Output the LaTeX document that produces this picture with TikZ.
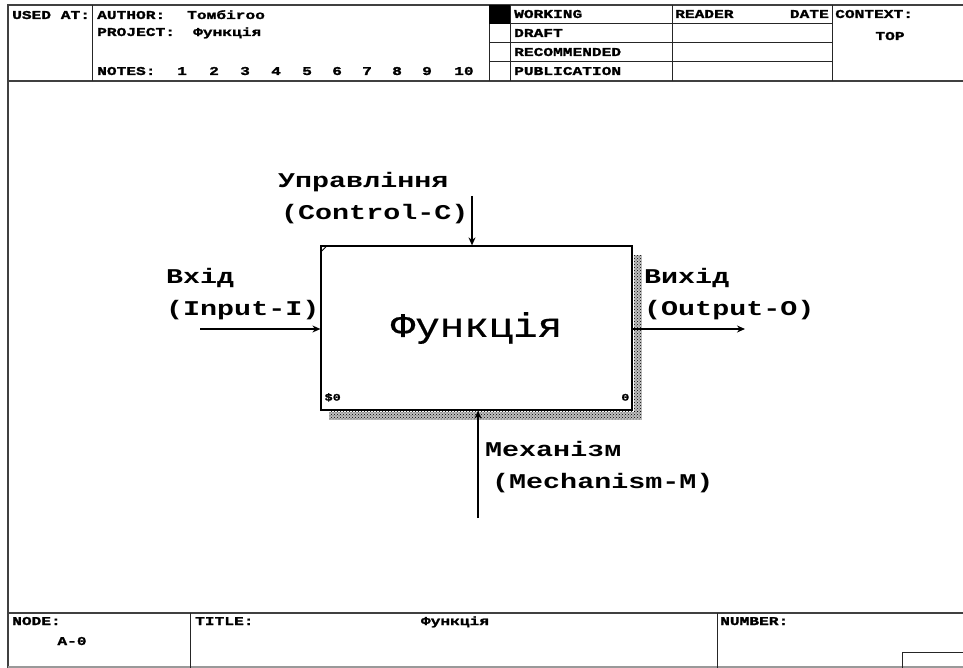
\documentclass[tikz,border=0pt]{standalone}
\usepackage{fontspec}
\setmainfont{Liberation Mono}
\newfontfamily\lblfont[FakeStretch=1.35]{Liberation Mono}
\newfontfamily\hdrfont[FakeStretch=1.35, FakeBold=1.5]{Liberation Mono}
\newfontfamily\fnfont[FakeStretch=1.2, FakeBold=0.6]{Liberation Mono}
\usetikzlibrary{arrows.meta,positioning,calc,patterns}

\begin{document}
\begin{tikzpicture}[x=1pt, y=-1pt,
    frm/.style={draw=black!75, line width=1.6pt},
    cel/.style={draw=black!85, line width=1pt},
    hdr/.style={font=\hdrfont\bfseries\fontsize{12}{12}\selectfont, anchor=west, inner sep=0pt, text height=7pt, text depth=1pt},
    lbl/.style={font=\lblfont\bfseries\fontsize{21}{32}\selectfont, align=left, anchor=west, inner sep=0pt},
    fnbox/.style={draw, line width=1.2pt, minimum width=311pt, minimum height=164pt, inner sep=0pt},
    arr/.style={-{Stealth[length=8pt,width=7pt]}, line width=1.3pt},
    shd/.style={fill=black!25, postaction={pattern=crosshatch dots, pattern color=black}}
]
\useasboundingbox (0,0) rectangle (963,668);

% page frame
\draw[frm] (975,5) -- (8,5) -- (8,668);
\draw[frm] (8,81) -- (975,81);
\draw[frm] (8,613) -- (975,613);
\draw[draw=black!40, line width=1.2pt] (8,667) -- (975,667);

% top header
\draw[cel] (92,5) -- (92,81);
\draw[cel] (489,5) -- (489,81);
\draw[cel] (510,5) -- (510,81);
\draw[cel] (672,5) -- (672,81);
\draw[cel] (832,5) -- (832,81);
\draw[cel] (489,24) -- (832,24);
\draw[cel] (489,43) -- (832,43);
\draw[cel] (489,62) -- (832,62);
\fill (489,5) rectangle (510,24);

\node[hdr] (usedat) at (12,16) {USED AT:};
\node[hdr] (author) at (97,16) {AUTHOR:};
\node[hdr] (authnm) at (187,16) {Toмбiroo};
\node[hdr] (proj) at (97,33) {PROJECT:};
\node[hdr] (projnm) at (193,33) {Функція};
\node[hdr] (notes) at (97,72) {NOTES:};
\foreach \n/\x in {1/177,2/209,3/240,4/271,5/302,6/332,7/362,8/392,9/422,10/454}
  \node[hdr] (note\n) at (\x,72) {\n};
\node[hdr] (working) at (514,15) {WORKING};
\node[hdr] (draft) at (514,34) {DRAFT};
\node[hdr] (recom) at (514,53) {RECOMMENDED};
\node[hdr] (publ) at (514,72) {PUBLICATION};
\node[hdr] (reader) at (675,15) {READER};
\node[hdr, anchor=east] (date) at (829,15) {DATE};
\node[hdr] (context) at (835,15) {CONTEXT:};
\node[hdr, anchor=center] (top) at (890,37) {TOP};

% bottom header
\draw[cel] (190,613) -- (190,668);
\draw[cel] (717,613) -- (717,668);
\draw[cel] (902,668) -- (902,652) -- (975,652);
\node[hdr] (node) at (12,622) {NODE:};
\node[hdr, anchor=center] (nodeno) at (72,642) {A-0};
\node[hdr] (title) at (195,622) {TITLE:};
\node[hdr, anchor=center] (titlenm) at (455,622) {Функція};
\node[hdr] (number) at (720,622) {NUMBER:};

% function box
\node[fnbox] (fn) at (476.5,328) {\fnfont\fontsize{34}{34}\selectfont Функція};
\fill[shd] ($(fn.north east)+(1,10)$) rectangle ($(fn.south east)+(9,9)$);
\fill[shd] ($(fn.south west)+(9,1)$) rectangle ($(fn.south east)+(9,9)$);
\draw[line width=0.8pt] ($(fn.north west)+(0,7)$) -- ($(fn.north west)+(7,0)$);
\node[hdr, font=\hdrfont\bfseries\fontsize{10}{10}\selectfont] (cost) at ($(fn.south west)+(4,-13)$) {\$0};
\node[hdr, anchor=east, font=\hdrfont\bfseries\fontsize{10}{10}\selectfont] (boxno) at ($(fn.south east)+(-3,-13)$) {0};

% arrow labels
\node[lbl] (ctl) at (278,198) {Управління\\\hspace*{3pt}(Control-C)};
\node[lbl] (inp) at (166,294) {Вхід\\(Input-I)};
\node[lbl] (out) at (644,294) {Вихід\\(Output-O)};
\node[lbl] (mech) at (485,467) {Механізм\\\hspace*{7pt}(Mechanism-M)};

% arrows
\coordinate (ctlS) at (472,196);
\coordinate (inS) at (200,329);
\coordinate (outE) at (745,329);
\coordinate (mechS) at (478,518);
\draw[arr] (ctlS) -- (ctlS |- fn.north);
\draw[arr] (inS) -- (inS -| fn.west);
\draw[arr] (outE -| fn.east) -- (outE);
\draw[arr] (mechS) -- (mechS |- fn.south);
\end{tikzpicture}
\end{document}
